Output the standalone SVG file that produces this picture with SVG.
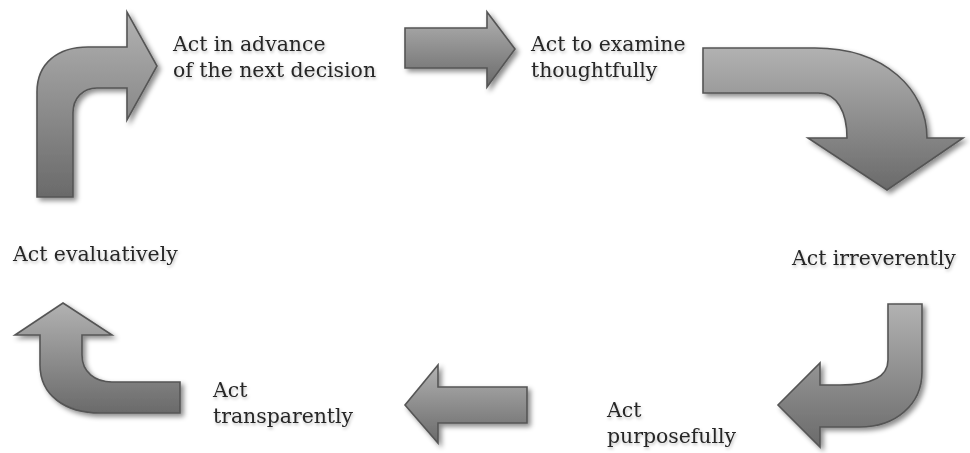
<svg xmlns="http://www.w3.org/2000/svg" width="970" height="453" viewBox="0 0 970 453">
  <style>
    .lbl { font-family: "DejaVu Serif", "Liberation Serif", serif; font-size: 20.4px; fill: #262626; filter: url(#tshadow); }
    .arrow { fill: url(#grey); stroke: #555555; stroke-width: 1.6; stroke-linejoin: miter; filter: url(#shadow); }
  </style>
  <defs>
    <linearGradient id="grey" x1="0" y1="0" x2="0" y2="1">
      <stop offset="0" stop-color="#b2b2b2"/>
      <stop offset="1" stop-color="#6a6a6a"/>
    </linearGradient>
    <filter id="shadow" x="-20%" y="-20%" width="150%" height="150%">
      <feDropShadow dx="3" dy="3" stdDeviation="2.5" flood-color="#000" flood-opacity="0.45"/>
    </filter>
    <filter id="tshadow" x="-10%" y="-30%" width="120%" height="170%">
      <feDropShadow dx="1" dy="2" stdDeviation="1.5" flood-color="#000" flood-opacity="0.25"/>
    </filter>
  </defs>
  <rect width="970" height="453" fill="#ffffff"/>

  <g id="connectors">
    <path id="arrow-evaluatively-advance" class="arrow" d="M37,197 L37,92 C37,63 58,47 88,47 L127,47 L127,12 L157,66 L127,120 L127,88 L97,88 C83,88 73,98 73,113 L73,197 Z"/>
    <path id="arrow-advance-examine" class="arrow" d="M405,28 L487,28 L487,12 L515,49 L487,87 L487,68 L405,68 Z"/>
    <path id="arrow-examine-irreverently" class="arrow" d="M703,48 L815,48 C885,48 927,90 927,138 L963,138 L887,190 L808,138 L847,138 C847,112 837,93 818,93 L703,93 Z"/>
    <path id="arrow-irreverently-purposefully" class="arrow" d="M888,304 L922,304 L922,372 C922,405 895,427 860,427 L820,427 L820,447 L778,405 L820,363 L820,385 L840,385 C868,385 888,378 888,360 Z"/>
    <path id="arrow-purposefully-transparently" class="arrow" d="M527,387 L527,423 L438,423 L438,443 L405,405 L438,365 L438,387 Z"/>
    <path id="arrow-transparently-evaluatively" class="arrow" d="M63,303 L112,335 L82,335 L82,355 C82,372 95,382 112,382 L180,382 L180,413 L100,413 C65,413 40,395 40,365 L40,335 L15,335 Z"/>
  </g>

  <g id="node-advance">
    <text class="lbl" x="173" y="51">Act in advance</text>
    <text class="lbl" x="173" y="77">of the next decision</text>
  </g>
  <g id="node-examine">
    <text class="lbl" x="531" y="51">Act to examine</text>
    <text class="lbl" x="531" y="77">thoughtfully</text>
  </g>
  <g id="node-irreverently">
    <text class="lbl" x="792" y="265">Act irreverently</text>
  </g>
  <g id="node-purposefully">
    <text class="lbl" x="607" y="417">Act</text>
    <text class="lbl" x="607" y="443">purposefully</text>
  </g>
  <g id="node-transparently">
    <text class="lbl" x="213" y="397">Act</text>
    <text class="lbl" x="213" y="423">transparently</text>
  </g>
  <g id="node-evaluatively">
    <text class="lbl" x="13" y="261">Act evaluatively</text>
  </g>
</svg>
